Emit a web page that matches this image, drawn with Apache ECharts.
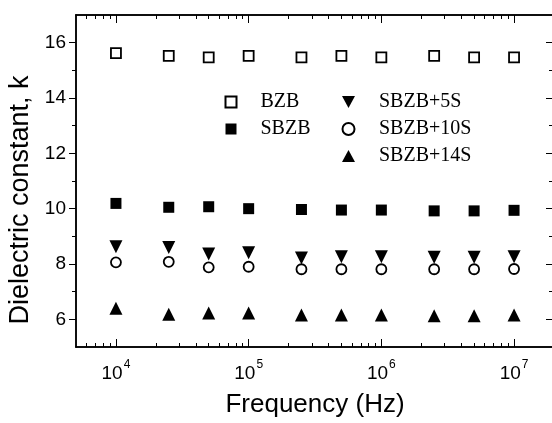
<!DOCTYPE html>
<html>
<head>
<meta charset="utf-8">
<script src="https://cdn.jsdelivr.net/npm/echarts@6/dist/echarts.min.js"></script>
<style>
html, body { margin: 0; padding: 0; background: #fff; }
#main { width: 552px; height: 423px; }
</style>
</head>
<body>
<div id="main"></div>
<script>
// frequency points (Hz)
var freq = [1e4, 2.5e4, 5e4, 1e5, 2.5e5, 5e5, 1e6, 2.5e6, 5e6, 1e7];

// dielectric constant k of each sample
var bzb    = [15.62, 15.52, 15.47, 15.52, 15.47, 15.52, 15.47, 15.52, 15.47, 15.47];
var sbzb   = [10.19, 10.05, 10.07, 10.00, 9.97, 9.95, 9.95, 9.92, 9.92, 9.94];
var sbzb5  = [8.62, 8.60, 8.36, 8.41, 8.22, 8.26, 8.26, 8.24, 8.24, 8.26];
var sbzb10 = [8.06, 8.08, 7.88, 7.90, 7.81, 7.81, 7.81, 7.81, 7.81, 7.82];
var sbzb14 = [6.40, 6.18, 6.23, 6.23, 6.16, 6.16, 6.16, 6.13, 6.13, 6.16];

// ticks
var xMajor = [1e4, 1e5, 1e6, 1e7];
var xMinor = [6e3, 7e3, 8e3, 9e3,
    2e4, 3e4, 4e4, 5e4, 6e4, 7e4, 8e4, 9e4,
    2e5, 3e5, 4e5, 5e5, 6e5, 7e5, 8e5, 9e5,
    2e6, 3e6, 4e6, 5e6, 6e6, 7e6, 8e6, 9e6];
var yMajor = [6, 8, 10, 12, 14, 16];
var yMinor = [7, 9, 11, 13, 15];

function pairs(ys) {
    var out = [];
    for (var i = 0; i < freq.length; i++) {
        out.push([freq[i], ys[i]]);
    }
    return out;
}

var lineStyle = { color: '#000', width: 1.5 };
var font = 'Liberation Sans';

function xAxisOf(pos, ticks, len, withLabel) {
    return {
        type: 'log',
        logBase: 10,
        min: 5000,
        max: 2e7,
        position: pos,
        axisLine: { show: true, onZero: false, lineStyle: lineStyle },
        axisTick: { show: true, inside: true, length: len, customValues: ticks, lineStyle: { color: '#000', width: 1 } },
        axisLabel: withLabel ? {
            show: true,
            customValues: ticks,
            margin: 12,
            formatter: function (v) {
                return '{b|10}{s|' + Math.round(Math.log10(v)) + '}';
            },
            rich: {
                b: { fontSize: 19, fontFamily: font, color: '#000', lineHeight: 24, verticalAlign: 'bottom' },
                s: { fontSize: 12, fontFamily: font, color: '#000', lineHeight: 24, verticalAlign: 'top', padding: [0, 0, 0, 1] }
            }
        } : { show: false },
        splitLine: { show: false }
    };
}

function yAxisOf(pos, ticks, len, inside, withLabel) {
    return {
        type: 'value',
        min: 5,
        max: 17,
        position: pos,
        axisLine: { show: true, onZero: false, lineStyle: lineStyle },
        axisTick: { show: true, inside: inside, length: len, customValues: ticks, lineStyle: { color: '#000', width: 1 } },
        axisLabel: withLabel ? {
            show: true,
            customValues: ticks,
            margin: 10,
            fontSize: 19,
            fontFamily: font,
            color: '#000'
        } : { show: false },
        splitLine: { show: false }
    };
}

var xMain = xAxisOf('bottom', xMajor, 8, true);
xMain.name = 'Frequency (Hz)';
xMain.nameLocation = 'middle';
xMain.nameGap = 45;
xMain.nameTextStyle = { fontSize: 26, fontFamily: font, color: '#000' };

var yMain = yAxisOf('left', yMajor, 7, false, true);
yMain.name = 'Dielectric constant, k';
yMain.nameLocation = 'middle';
yMain.nameGap = 36;
yMain.nameTextStyle = { fontSize: 27, fontFamily: font, color: '#000', padding: [0, 38, 0, 0] };

var myChart = echarts.init(document.getElementById('main'), null, { renderer: 'canvas' });

var legendText = { fontFamily: 'Liberation Serif', fontSize: 20, color: '#000', padding: [0, 0, 0, 19] };

var option = {
    backgroundColor: '#fff',
    animation: false,
    grid: { left: 76, top: 15, width: 478, bottom: 76, containLabel: false, outerBoundsMode: 'none' },
    legend: [{
        data: ['BZB', 'SBZB'],
        orient: 'vertical',
        left: 219.5,
        top: 87,
        itemWidth: 11,
        itemHeight: 11,
        itemGap: 7,
        textStyle: legendText
    }, {
        data: [
            { name: 'SBZB+5S', icon: 'path://M0,0 L12,0 L6,11 Z' },
            { name: 'SBZB+10S' },
            { name: 'SBZB+14S' }
        ],
        orient: 'vertical',
        left: 336.5,
        top: 87,
        itemWidth: 13,
        itemHeight: 12,
        itemGap: 7,
        textStyle: legendText
    }],
    xAxis: [
        xMain,
        xAxisOf('bottom', xMinor, 4, false),
        xAxisOf('top', xMajor, 8, false),
        xAxisOf('top', xMinor, 4, false)
    ],
    yAxis: [
        yMain,
        yAxisOf('left', yMinor, 4, false, false),
        yAxisOf('right', yMajor, 8, true, false),
        yAxisOf('right', yMinor, 5, true, false)
    ],
    series: [{
        name: 'BZB',
        type: 'scatter',
        symbol: 'rect',
        symbolSize: 10,
        itemStyle: { color: '#fff', borderColor: '#000', borderWidth: 1.8, opacity: 1 },
        data: pairs(bzb)
    }, {
        name: 'SBZB',
        type: 'scatter',
        symbol: 'rect',
        symbolSize: 11,
        itemStyle: { color: '#000', opacity: 1 },
        data: pairs(sbzb)
    }, {
        name: 'SBZB+5S',
        type: 'scatter',
        symbol: 'triangle',
        symbolRotate: 180,
        symbolSize: 13,
        itemStyle: { color: '#000', opacity: 1 },
        data: pairs(sbzb5)
    }, {
        name: 'SBZB+10S',
        type: 'scatter',
        symbol: 'circle',
        symbolSize: 10,
        itemStyle: { color: '#fff', borderColor: '#000', borderWidth: 1.8, opacity: 1 },
        data: pairs(sbzb10)
    }, {
        name: 'SBZB+14S',
        type: 'scatter',
        symbol: 'triangle',
        symbolSize: 13,
        itemStyle: { color: '#000', opacity: 1 },
        data: pairs(sbzb14)
    }]
};

myChart.setOption(option);
</script>
</body>
</html>
